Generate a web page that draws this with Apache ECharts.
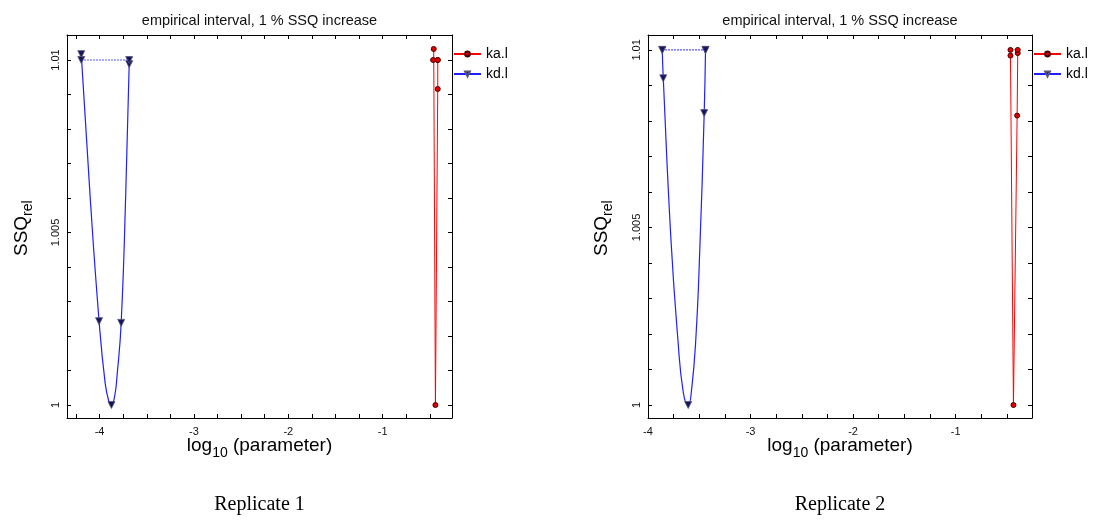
<!DOCTYPE html>
<html>
<head>
<meta charset="utf-8">
<script src="https://cdn.jsdelivr.net/npm/echarts@6/dist/echarts.min.js"></script>
<style>html,body{margin:0;padding:0;background:#fff}#c{width:1093px;height:521px}</style>
</head>
<body>
<div id="c"></div>
<script>
// ---------- data ----------
const titleText = 'empirical interval, 1 % SSQ increase';
const captions = ['Replicate 1', 'Replicate 2'];
const xLabelTicks = [-4, -3, -2, -1];
const xMinorTicks = [-4.25, -4, -3.75, -3.5, -3.25, -3, -2.75, -2.5, -2.25, -2, -1.75, -1.5, -1.25, -1, -0.75, -0.5, -0.25];
const yLabelTicks = [1, 1.005, 1.01];
const yMinorTicks = [1, 1.001, 1.002, 1.003, 1.004, 1.005, 1.006, 1.007, 1.008, 1.009, 1.01];

// Replicate 1
const kd1X = [-4.194, -4.101, -4.005, -3.941, -3.904, -3.874, -3.840, -3.814, -3.771, -3.723, -3.686];
const kd1Y = [1.01017, 1.00609, 1.00243, 1.00064, 1.00013, 1.0, 1.00026, 1.00087, 1.00238, 1.00609, 1.00988];
const kd1Mark = [1, 0, 1, 0, 0, 1, 0, 0, 1, 0, 1];
const kd1ThrX = [-4.194, -3.686];
const kd1ThrY = [1.01, 1.01];
const ka1X = [-0.4596, -0.4415, -0.417, -0.417];
const ka1Y = [1.01032, 1.0, 1.00916, 1.01];
const ka1ThrX = [-0.466, -0.417];
const ka1ThrY = [1.01, 1.01];

// Replicate 2
const kd2X = [-3.861, -3.851, -3.776, -3.708, -3.655, -3.608, -3.577, -3.533, -3.494, -3.452, -3.439];
const kd2Y = [1.01, 1.0092, 1.00465, 1.00183, 1.00034, 1.0, 1.00037, 1.00189, 1.00445, 1.00822, 1.01];
const kd2Mark = [1, 1, 0, 0, 0, 1, 0, 0, 0, 1, 1];
const kd2ThrX = [-3.861, -3.439];
const kd2ThrY = [1.01, 1.01];
const ka2X = [-0.465, -0.436, -0.400, -0.394];
const ka2Y = [1.00984, 1.0, 1.00815, 1.00991];
const ka2ThrX = [-0.465, -0.394];
const ka2ThrY = [1.01, 1.01];

const xRange = [[-4.345, -0.266], [-4.0, -0.255]];
const yRange = [[0.999623, 1.010725], [0.999634, 1.01042]];

// ---------- layout / style ----------
const SANS = '"Liberation Sans", Arial, sans-serif';
const SERIF = '"Liberation Serif", "Times New Roman", serif';
const grids = [
  {left: 67, top: 35, width: 385, height: 383},
  {left: 648, top: 35, width: 384, height: 383}
];
const RED = '#ff0000', BLUE = '#1f1fff';
const redSym = {symbol: 'circle', symbolSize: 5, itemStyle: {color: '#e00000', borderColor: '#500000', borderWidth: 1}};
const blueSym = {symbol: 'triangle', symbolSize: 7, symbolRotate: 180, itemStyle: {color: '#151560', borderColor: '#555577', borderWidth: 0.8}};

const zip = (xs, ys) => xs.map((x, i) => [x, ys[i]]);

const xAxes = [], yAxes = [], series = [];
for (let g = 0; g < 2; g++) {
  const commonTick = {show: true, inside: true, length: 4, lineStyle: {color: '#000', width: 1}};
  const axLine = {show: true, onZero: false, lineStyle: {color: '#000', width: 1}};
  ['bottom', 'top'].forEach(pos => {
    xAxes.push({
      type: 'value', gridIndex: g, position: pos, min: xRange[g][0], max: xRange[g][1],
      axisLine: axLine, splitLine: {show: false},
      axisTick: Object.assign({customValues: xMinorTicks}, commonTick),
      axisLabel: {show: pos === 'bottom', customValues: xLabelTicks, margin: 8, color: '#111',
        fontFamily: SANS, fontSize: 11, formatter: v => String(v)}
    });
  });
  ['left', 'right'].forEach(pos => {
    yAxes.push({
      type: 'value', gridIndex: g, position: pos, min: yRange[g][0], max: yRange[g][1],
      axisLine: axLine, splitLine: {show: false},
      axisTick: Object.assign({customValues: yMinorTicks}, commonTick),
      axisLabel: {show: pos === 'left', customValues: yLabelTicks, rotate: 90, margin: 6, color: '#111',
        fontFamily: SANS, fontSize: 11, formatter: v => String(+v.toFixed(3))}
    });
  });
}

function addPanel(g, kaX, kaY, kaTX, kaTY, kdX, kdY, kdM, kdTX, kdTY) {
  const xi = g * 2, yi = g * 2;
  series.push(Object.assign({
    name: 'ka.l', type: 'line', xAxisIndex: xi, yAxisIndex: yi, showAllSymbol: true,
    lineStyle: {color: RED, width: 1}, data: zip(kaX, kaY), z: 3
  }, JSON.parse(JSON.stringify(redSym))));
  series.push(Object.assign({
    name: 'ka.l thr', type: 'line', xAxisIndex: xi, yAxisIndex: yi, showAllSymbol: true,
    lineStyle: {color: RED, width: 1, type: 'dotted'}, data: zip(kaTX, kaTY), z: 3
  }, JSON.parse(JSON.stringify(redSym))));
  series.push(Object.assign({
    name: 'kd.l', type: 'line', xAxisIndex: xi, yAxisIndex: yi, showAllSymbol: true,
    smooth: 0.5,
    lineStyle: {color: BLUE, width: 1.2},
    data: kdX.map((x, i) => kdM[i] ? {value: [x, kdY[i]]} : {value: [x, kdY[i]], symbol: 'none'}), z: 3
  }, JSON.parse(JSON.stringify(blueSym))));
  series.push(Object.assign({
    name: 'kd.l thr', type: 'line', xAxisIndex: xi, yAxisIndex: yi, showAllSymbol: true,
    lineStyle: {color: BLUE, width: 1.2, type: [1.5, 1.5]}, data: zip(kdTX, kdTY), z: 3
  }, JSON.parse(JSON.stringify(blueSym))));
}
addPanel(0, ka1X, ka1Y, ka1ThrX, ka1ThrY, kd1X, kd1Y, kd1Mark, kd1ThrX, kd1ThrY);
addPanel(1, ka2X, ka2Y, ka2ThrX, ka2ThrY, kd2X, kd2Y, kd2Mark, kd2ThrX, kd2ThrY);

// text measuring
const mctx = document.createElement('canvas').getContext('2d');
function tw(t, size, fam) { mctx.font = size + 'px ' + fam; return mctx.measureText(t).width; }

const graphic = [];
const MAIN = 19, SUB = 14;
for (let g = 0; g < 2; g++) {
  const gr = grids[g];
  const cx = gr.left + gr.width / 2;
  graphic.push({type: 'text', x: cx, y: 21, style: {text: titleText, fontFamily: SANS, fontSize: 14.5,
    fill: '#111', align: 'center', verticalAlign: 'middle'}});
  const w1 = tw('log', MAIN, SANS), w2 = tw('10', SUB, SANS), w3 = tw(' (parameter)', MAIN, SANS);
  const x0 = cx - (w1 + w2 + w3) / 2;
  graphic.push({type: 'text', x: x0, y: 446, style: {text: 'log', fontFamily: SANS, fontSize: MAIN, fill: '#000', align: 'left', verticalAlign: 'middle'}});
  graphic.push({type: 'text', x: x0 + w1, y: 453, style: {text: '10', fontFamily: SANS, fontSize: SUB, fill: '#000', align: 'left', verticalAlign: 'middle'}});
  graphic.push({type: 'text', x: x0 + w1 + w2, y: 446, style: {text: ' (parameter)', fontFamily: SANS, fontSize: MAIN, fill: '#000', align: 'left', verticalAlign: 'middle'}});
  const s1 = tw('SSQ', MAIN, SANS);
  const yx = g === 0 ? 22 : 602;
  graphic.push({type: 'group', x: yx, y: 256, rotation: Math.PI / 2, children: [
    {type: 'text', x: 0, y: 0, style: {text: 'SSQ', fontFamily: SANS, fontSize: MAIN, fill: '#000', align: 'left', verticalAlign: 'middle'}},
    {type: 'text', x: s1, y: 6, style: {text: 'rel', fontFamily: SANS, fontSize: SUB, fill: '#000', align: 'left', verticalAlign: 'middle'}}
  ]});
  graphic.push({type: 'text', x: cx, y: 505, style: {text: captions[g], fontFamily: SERIF, fontSize: 20, fill: '#000', align: 'center', verticalAlign: 'middle'}});
}

const legendCommon = {
  orient: 'vertical', data: ['ka.l', 'kd.l'], itemWidth: 27, itemHeight: 6, itemGap: 6, padding: 0,
  textStyle: {fontFamily: SANS, fontSize: 14, color: '#000'},
  selectedMode: false
};

const chart = echarts.init(document.getElementById('c'), null, {renderer: 'canvas'});
chart.setOption({
  animation: false,
  backgroundColor: '#fff',
  grid: grids,
  xAxis: xAxes,
  yAxis: yAxes,
  legend: [
    Object.assign({left: 453, top: 47}, legendCommon),
    Object.assign({left: 1033, top: 47}, legendCommon)
  ],
  series: series,
  graphic: graphic
});
</script>
</body>
</html>
